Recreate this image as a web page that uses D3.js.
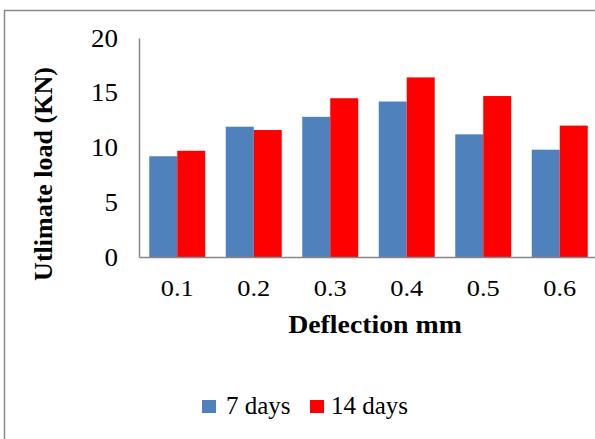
<!DOCTYPE html>
<html><head><meta charset="utf-8">
<script src="https://cdn.jsdelivr.net/npm/d3@7"></script>
<style>body{margin:0;background:#fff}svg{display:block}svg text{font-family:"Liberation Serif","Times New Roman",Times,serif}</style>
</head><body>
<script>
const categories = ["0.1","0.2","0.3","0.4","0.5","0.6"];
const days7 = [9.2, 11.9, 12.8, 14.2, 11.2, 9.8];
const days14 = [9.7, 11.6, 14.5, 16.4, 14.7, 12.0];
const seriesNames = ["7 days", "14 days"];
const seriesColors = ["#4F81BD", "#FF0000"];
const yTicks = [0, 5, 10, 15, 20];

(function(){
const W = 595, H = 439;
const svg = d3.select("body").append("svg").attr("width", W).attr("height", H);
const font = "Liberation Serif";

svg.append("path").attr("d", `M4.5,${H} V10.5 H${W}`).attr("fill","none").attr("stroke","#8a8a8a").attr("stroke-width",1.5);

const pLeft = 139, pRight = 139 + 6*76.5, pTop = 38, pBottom = 257;
const x0 = d3.scaleBand().domain(categories).range([pLeft, pRight]).paddingInner(0.268).paddingOuter(0.134);
const x1 = d3.scaleBand().domain(seriesNames).range([0, x0.bandwidth()]);
const y = d3.scaleLinear().domain([0, 20]).range([pBottom, pTop]);

const data = categories.map((c, i) => ({c, vals: [days7[i], days14[i]]}));
const g = svg.append("g");
data.forEach(d => {
  d.vals.forEach((v, j) => {
    g.append("rect")
      .attr("x", x0(d.c) + x1(seriesNames[j]))
      .attr("y", y(v))
      .attr("width", x1.bandwidth())
      .attr("height", y(0) - y(v))
      .attr("fill", seriesColors[j]);
  });
});

const yPad = 21;
const yAxis = svg.append("g").attr("transform", `translate(${pLeft},0)`)
  .call(d3.axisLeft(y).tickValues(yTicks).tickSize(0).tickPadding(yPad));
yAxis.attr("font-family", font);
yAxis.select(".domain").attr("stroke","#868686").attr("stroke-width",1.5);
yAxis.selectAll("text").attr("font-size", 25).attr("fill","#000")
  .attr("transform", `translate(${-yPad},0) scale(1.08,1) translate(${yPad},0)`);

const xAxis = svg.append("g").attr("transform", `translate(0,${pBottom})`)
  .call(d3.axisBottom(x0).tickSize(0).tickPadding(22));
xAxis.attr("font-family", font);
xAxis.select(".domain").attr("stroke","#868686").attr("stroke-width",1.5);
xAxis.selectAll("text").attr("font-size", 24).attr("fill","#000").attr("transform", "scale(1.1,1)");

svg.append("text").attr("transform", "translate(375,333) scale(1.07,1)").attr("text-anchor","middle")
  .attr("font-weight","bold").attr("font-size", 26).text("Deflection mm");

svg.append("text").attr("transform", "translate(52,174) rotate(-90)").attr("text-anchor","middle")
  .attr("font-weight","bold").attr("font-size", 26).text("Utlimate load (KN)");

const leg = svg.append("g");
const legItems = [{x:202, tx:226}, {x:310, tx:331}];
seriesNames.forEach((s, i) => {
  leg.append("rect").attr("x", legItems[i].x).attr("y", 400).attr("width", 14).attr("height", 13).attr("fill", seriesColors[i]);
  leg.append("text").attr("x", legItems[i].tx).attr("y", 414).attr("font-size", 25).attr("fill","#000").text(s);
});
})();
</script>
</body></html>
